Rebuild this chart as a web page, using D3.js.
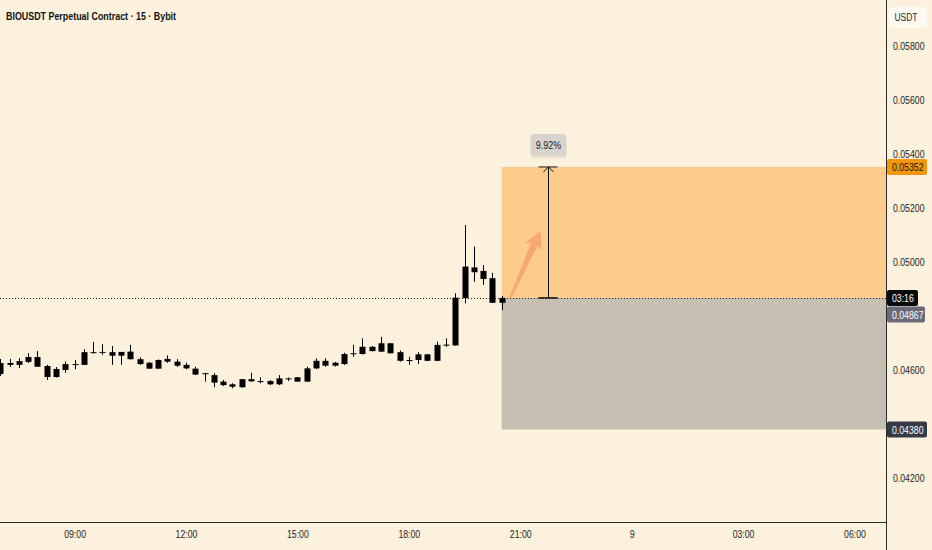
<!DOCTYPE html>
<html>
<head>
<meta charset="utf-8">
<script src="https://cdn.jsdelivr.net/npm/d3@7"></script>
<style>
    html, body { margin: 0; padding: 0; background: #fcf1dd; }
    svg { display: block; }
    text { font-family: "Liberation Sans", "DejaVu Sans", sans-serif; }
</style>
</head>
<body>
<svg id="chart" width="932" height="550"></svg>
<script>
// 15 min candles, 8th 07:00 .. 20:30
var times = ["07:00","07:15","07:30","07:45","08:00","08:15","08:30","08:45","09:00","09:15","09:30","09:45",
    "10:00","10:15","10:30","10:45","11:00","11:15","11:30","11:45","12:00","12:15","12:30","12:45",
    "13:00","13:15","13:30","13:45","14:00","14:15","14:30","14:45","15:00","15:15","15:30","15:45",
    "16:00","16:15","16:30","16:45","17:00","17:15","17:30","17:45","18:00","18:15","18:30","18:45",
    "19:00","19:15","19:30","19:45","20:00","20:15","20:30"];

var opens = [0.04585,0.04626,0.04619,0.04630,0.04648,0.04615,0.04574,0.04600,0.04622,0.04619,0.04666,0.04665,
    0.04666,0.04653,0.04668,0.04640,0.04627,0.04605,0.04631,0.04631,0.04619,0.04605,0.04588,0.04581,
    0.04557,0.04547,0.04536,0.04566,0.04559,0.04559,0.04547,0.04569,0.04573,0.04557,0.04606,0.04634,
    0.04616,0.04622,0.04662,0.04659,0.04686,0.04668,0.04699,0.04666,0.04637,0.04637,0.04658,0.04634,
    0.04693,0.04691,0.04866,0.04980,0.04967,0.04940,0.04849];
var highs = [0.04641,0.04641,0.04644,0.04663,0.04670,0.04619,0.04611,0.04631,0.04637,0.04677,0.04704,0.04696,
    0.04689,0.04667,0.04693,0.04647,0.04630,0.04639,0.04654,0.04640,0.04627,0.04612,0.04590,0.04588,
    0.04563,0.04551,0.04567,0.04590,0.04573,0.04563,0.04581,0.04572,0.04574,0.04612,0.04643,0.04643,
    0.04630,0.04664,0.04693,0.04717,0.04689,0.04723,0.04700,0.04672,0.04649,0.04666,0.04659,0.04705,
    0.04717,0.04884,0.05137,0.05057,0.04989,0.04960,0.04874];
var lows = [0.04578,0.04611,0.04607,0.04626,0.04611,0.04563,0.04572,0.04590,0.04603,0.04618,0.04661,0.04656,
    0.04619,0.04619,0.04639,0.04619,0.04604,0.04604,0.04627,0.04612,0.04603,0.04581,0.04557,0.04536,
    0.04541,0.04532,0.04535,0.04557,0.04551,0.04544,0.04544,0.04559,0.04556,0.04556,0.04603,0.04612,
    0.04613,0.04619,0.04649,0.04658,0.04669,0.04667,0.04661,0.04631,0.04619,0.04622,0.04633,0.04633,
    0.04686,0.04690,0.04847,0.04927,0.04915,0.04848,0.04822];
var closes = [0.04626,0.04619,0.04633,0.04648,0.04612,0.04574,0.04604,0.04622,0.04620,0.04666,0.04664,0.04667,
    0.04653,0.04667,0.04640,0.04622,0.04605,0.04637,0.04641,0.04616,0.04606,0.04583,0.04586,0.04553,
    0.04544,0.04538,0.04566,0.04558,0.04558,0.04547,0.04569,0.04568,0.04557,0.04606,0.04634,0.04616,
    0.04627,0.04659,0.04660,0.04686,0.04670,0.04699,0.04662,0.04634,0.04635,0.04658,0.04634,0.04693,
    0.04694,0.04868,0.04983,0.04962,0.04937,0.04849,0.04867];

// 0.048 and 0.044 sit under the price tags
var priceTicks = [0.058, 0.056, 0.054, 0.052, 0.050, 0.046, 0.042];
var timeTicks = ["2025-01-08 09:00","2025-01-08 12:00","2025-01-08 15:00","2025-01-08 18:00",
    "2025-01-08 21:00","2025-01-09 00:00","2025-01-09 03:00","2025-01-09 06:00"];
var timeTickLabels = ["09:00","12:00","15:00","18:00","21:00","9","03:00","06:00"];

// long position tool
var entryPrice = 0.04867;
var targetPrice = 0.05352;
var stopPrice = 0.04380;
var positionStart = "2025-01-08 20:30";
var measureTime = "2025-01-08 21:45";
var percentText = "9.92%";
var arrowFrom = {t: "2025-01-08 20:44", p: 0.04867};
var arrowTo = {t: "2025-01-08 21:33", p: 0.05117};
var lastPrice = 0.04867;
var countdown = "03:16";

var parseFull = d3.timeParse("%Y-%m-%d %H:%M");

var candles = times.map(function (t, i) {
    return {
        date: parseFull("2025-01-08 " + t),
        o: opens[i], h: highs[i], l: lows[i], c: closes[i]
    };
});

const W = 886;
const H = 522;
const svg = d3.select("#chart");

// squeeze text horizontally, the reference font is a narrow one
function condense(sel, k) {
    sel.each(function () {
        var w = this.getComputedTextLength();
        d3.select(this)
            .attr("textLength", (w * k).toFixed(1))
            .attr("lengthAdjust", "spacingAndGlyphs");
    });
}

svg.append("rect").attr("width", 932).attr("height", 550).attr("fill", "#fcf1dd");

const x = d3.scaleTime()
    .domain([parseFull("2025-01-08 07:00"), parseFull("2025-01-09 06:51")])
    .range([0.3, W]);

const y = d3.scaleLinear()
    .domain([0.042, 0.058])
    .range([478, 46]);

const step = x(parseFull("2025-01-08 07:15")) - x(parseFull("2025-01-08 07:00"));
const bodyW = Math.round(step * 0.68);

const plot = svg.append("g").attr("class", "plot");

// position boxes
var xStart = x(parseFull(positionStart));
plot.append("rect")
    .attr("x", xStart)
    .attr("y", y(targetPrice))
    .attr("width", W - xStart)
    .attr("height", y(entryPrice) - y(targetPrice))
    .attr("fill", "#fdcc8a");
plot.append("rect")
    .attr("x", xStart)
    .attr("y", y(entryPrice))
    .attr("width", W - xStart)
    .attr("height", y(stopPrice) - y(entryPrice))
    .attr("fill", "#c5bfb2");

// last price dotted line
plot.append("line")
    .attr("x1", 0).attr("x2", W)
    .attr("y1", Math.round(y(lastPrice)) + 0.5)
    .attr("y2", Math.round(y(lastPrice)) + 0.5)
    .attr("stroke", "#222")
    .attr("stroke-width", 1)
    .attr("stroke-dasharray", "1,2");

// candles
const cg = plot.append("g").selectAll("g.candle")
    .data(candles)
    .enter()
    .append("g")
    .attr("class", "candle");

cg.append("line")
    .attr("x1", function (d) { return Math.round(x(d.date)) + 0.5; })
    .attr("x2", function (d) { return Math.round(x(d.date)) + 0.5; })
    .attr("y1", function (d) { return y(d.h); })
    .attr("y2", function (d) { return y(d.l); })
    .attr("stroke", "#000")
    .attr("stroke-width", 1);

cg.append("rect")
    .attr("x", function (d) { return Math.round(x(d.date)) + 0.5 - bodyW / 2; })
    .attr("y", function (d) { return y(Math.max(d.o, d.c)); })
    .attr("width", bodyW)
    .attr("height", function (d) { return Math.max(1, Math.abs(y(d.o) - y(d.c))); })
    .attr("fill", "#000");

// orange arrow
var ax1 = x(parseFull(arrowFrom.t)), ay1 = y(arrowFrom.p);
var ax2 = x(parseFull(arrowTo.t)), ay2 = y(arrowTo.p);
var ang = Math.atan2(ay2 - ay1, ax2 - ax1);
var len = Math.hypot(ax2 - ax1, ay2 - ay1);
var arrowG = plot.append("g")
    .attr("transform", "translate(" + ax1 + "," + ay1 + ") rotate(" + (ang * 180 / Math.PI) + ")");
arrowG.append("path")
    .attr("d", "M0,-1 L" + (len - 15) + ",-3.5 L" + (len - 18) + ",-9 L" + len + ",0 L" + (len - 18) + ",9 L" + (len - 15) + ",3.5 L0,1 Z")
    .attr("fill", "#f7a070")
    .attr("opacity", 0.85);

// measure line
var mx = Math.round(x(parseFull(measureTime))) + 0.5;
plot.append("line")
    .attr("x1", mx).attr("x2", mx)
    .attr("y1", y(entryPrice)).attr("y2", y(targetPrice))
    .attr("stroke", "#111").attr("stroke-width", 1);
plot.append("line")
    .attr("x1", mx - 10).attr("x2", mx + 9)
    .attr("y1", y(targetPrice)).attr("y2", y(targetPrice))
    .attr("stroke", "#111").attr("stroke-width", 1);
plot.append("line")
    .attr("x1", mx - 10).attr("x2", mx + 9)
    .attr("y1", y(entryPrice)).attr("y2", y(entryPrice))
    .attr("stroke", "#111").attr("stroke-width", 1.5);
plot.append("path")
    .attr("d", "M" + (mx - 5) + "," + (y(targetPrice) + 5) + " L" + mx + "," + y(targetPrice) + " L" + (mx + 5) + "," + (y(targetPrice) + 5))
    .attr("fill", "none").attr("stroke", "#111").attr("stroke-width", 1);

// percent label
var lbl = plot.append("g").attr("transform", "translate(" + mx + "," + (y(targetPrice) - 22) + ")");
lbl.append("rect")
    .attr("x", -18).attr("y", -10).attr("width", 36).attr("height", 22).attr("rx", 4)
    .attr("fill", "#000").attr("opacity", 0.06).attr("transform", "translate(0,1.5)");
lbl.append("rect")
    .attr("x", -18).attr("y", -11).attr("width", 36).attr("height", 22).attr("rx", 4)
    .attr("fill", "#d8d4cd");
lbl.append("text")
    .attr("text-anchor", "middle")
    .attr("dominant-baseline", "central")
    .style("font-size", "10.5px")
    .style("fill", "#222")
    .text(percentText)
    .call(condense, 0.85);

// right price axis
svg.append("line")
    .attr("x1", W + 0.5).attr("x2", W + 0.5)
    .attr("y1", 0).attr("y2", 550)
    .attr("stroke", "#2a2a2a").attr("stroke-width", 1);

const yAxis = svg.append("g")
    .attr("transform", "translate(" + W + ",0)")
    .call(d3.axisRight(y).tickValues(priceTicks).tickSize(0).tickPadding(7).tickFormat(d3.format(".5f")));
yAxis.select(".domain").remove();
yAxis.selectAll("text")
    .attr("font-family", "Liberation Sans, sans-serif")
    .style("font-size", "10.5px")
    .style("fill", "#1f1f1f")
    .call(condense, 0.83);

// USDT header
svg.append("rect")
    .attr("x", 889).attr("y", 7).attr("width", 38).attr("height", 21).attr("rx", 3)
    .attr("fill", "#fffaf1");
svg.append("text")
    .attr("x", 906).attr("y", 21)
    .attr("text-anchor", "middle")
    .style("font-size", "10px")
    .style("fill", "#1f1f1f")
    .text("USDT")
    .call(condense, 0.85);

function priceTag(yy, bg, fg, txt, w) {
    var g = svg.append("g").attr("transform", "translate(" + (W + 1) + "," + yy + ")");
    g.append("rect")
        .attr("x", 0).attr("y", -8).attr("width", w).attr("height", 16).attr("rx", 2)
        .attr("fill", bg);
    g.append("text")
        .attr("x", 5).attr("y", 0.5)
        .attr("dominant-baseline", "central")
        .style("font-size", "10.5px")
        .style("fill", fg)
        .text(txt)
        .call(condense, 0.83);
}

priceTag(y(targetPrice), "#f2960c", "#1a1a1a", d3.format(".5f")(targetPrice), 40);
priceTag(y(stopPrice), "#363a45", "#ffffff", d3.format(".5f")(stopPrice), 40);
priceTag(y(lastPrice) + 16.5, "#6c6c78", "#ffffff", d3.format(".5f")(lastPrice), 38);
priceTag(y(lastPrice), "#0b0b0b", "#ffffff", countdown, 31);

// bottom time axis
svg.append("rect")
    .attr("x", 0).attr("y", H).attr("width", W).attr("height", 550 - H)
    .attr("fill", "#fcf1dd");
svg.append("line")
    .attr("x1", 0).attr("x2", W + 1)
    .attr("y1", H + 0.5).attr("y2", H + 0.5)
    .attr("stroke", "#2a2a2a").attr("stroke-width", 1);

const tickDates = timeTicks.map(parseFull);
const xAxis = svg.append("g")
    .attr("transform", "translate(0," + H + ")")
    .call(d3.axisBottom(x).tickValues(tickDates).tickSize(0).tickPadding(9)
        .tickFormat(function (d, i) { return timeTickLabels[i]; }));
xAxis.select(".domain").remove();
xAxis.selectAll("text")
    .attr("font-family", "Liberation Sans, sans-serif")
    .style("font-size", "10.5px")
    .style("fill", "#1f1f1f")
    .call(condense, 0.83);

// title
svg.append("text")
    .attr("x", 6).attr("y", 20)
    .attr("textLength", 170)
    .attr("lengthAdjust", "spacingAndGlyphs")
    .style("font-size", "11.5px")
    .style("font-weight", "bold")
    .style("fill", "#131313")
    .text("BIOUSDT Perpetual Contract · 15 · Bybit");
</script>
</body>
</html>
